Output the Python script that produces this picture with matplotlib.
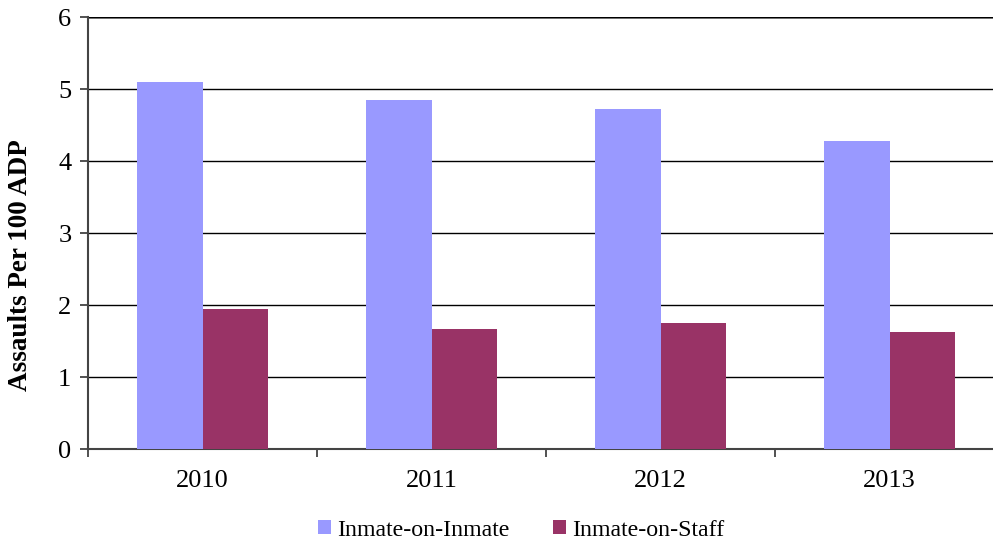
import matplotlib.pyplot as plt
import numpy as np

years = ["2010", "2011", "2012", "2013"]
inmate_on_inmate = [5.10, 4.85, 4.72, 4.28]
inmate_on_staff = [1.94, 1.66, 1.75, 1.62]

plt.rcParams['font.family'] = ['Liberation Serif', 'DejaVu Serif']

fig = plt.figure(figsize=(9.93, 5.42), dpi=100)
W, H = 993, 542
ax = fig.add_axes([88 / W, (H - 449) / H, 916 / W, 432 / H])

x = np.arange(len(years))
w = 0.287
ax.bar(x - w / 2, inmate_on_inmate, w, color="#9999FF", label="Inmate-on-Inmate", zorder=3)
ax.bar(x + w / 2, inmate_on_staff, w, color="#993366", label="Inmate-on-Staff", zorder=3)

ax.set_xlim(-0.5, 3.5)
ax.set_ylim(0, 6)
ax.set_yticks(range(0, 7))
ax.yaxis.grid(True, color="black", linewidth=1, zorder=0)
ax.set_xticks(x)
ax.set_xticklabels(years)
ax.set_xticks(np.arange(-0.5, 4, 1), minor=True)
ax.tick_params(axis="x", which="major", length=0, pad=15, labelsize=19)
ax.tick_params(axis="x", which="minor", length=6, width=1.2, color="#333333")
ax.tick_params(axis="y", length=6, width=1.2, color="#333333", pad=6, labelsize=19)

for s in ["top", "right"]:
    ax.spines[s].set_visible(False)
ax.spines["left"].set_color("#444444")
ax.spines["left"].set_linewidth(1.5)
ax.spines["bottom"].set_color("#444444")
ax.spines["bottom"].set_linewidth(1.5)
ax.axhline(6, color="#808080", linewidth=2, zorder=1)

ax.set_ylabel("Assaults Per 100 ADP", fontsize=19.5, fontweight="bold")
ax.yaxis.set_label_coords((33 - 88) / 916, (449 - 265) / 432)

fig.legend(loc="center", bbox_to_anchor=(521 / W, 1 - 530 / H), ncol=2, frameon=False,
           fontsize=17.2, handlelength=0.55, handleheight=0.55, handletextpad=0.25,
           columnspacing=1.8)

fig.savefig("out.png", dpi=100)
